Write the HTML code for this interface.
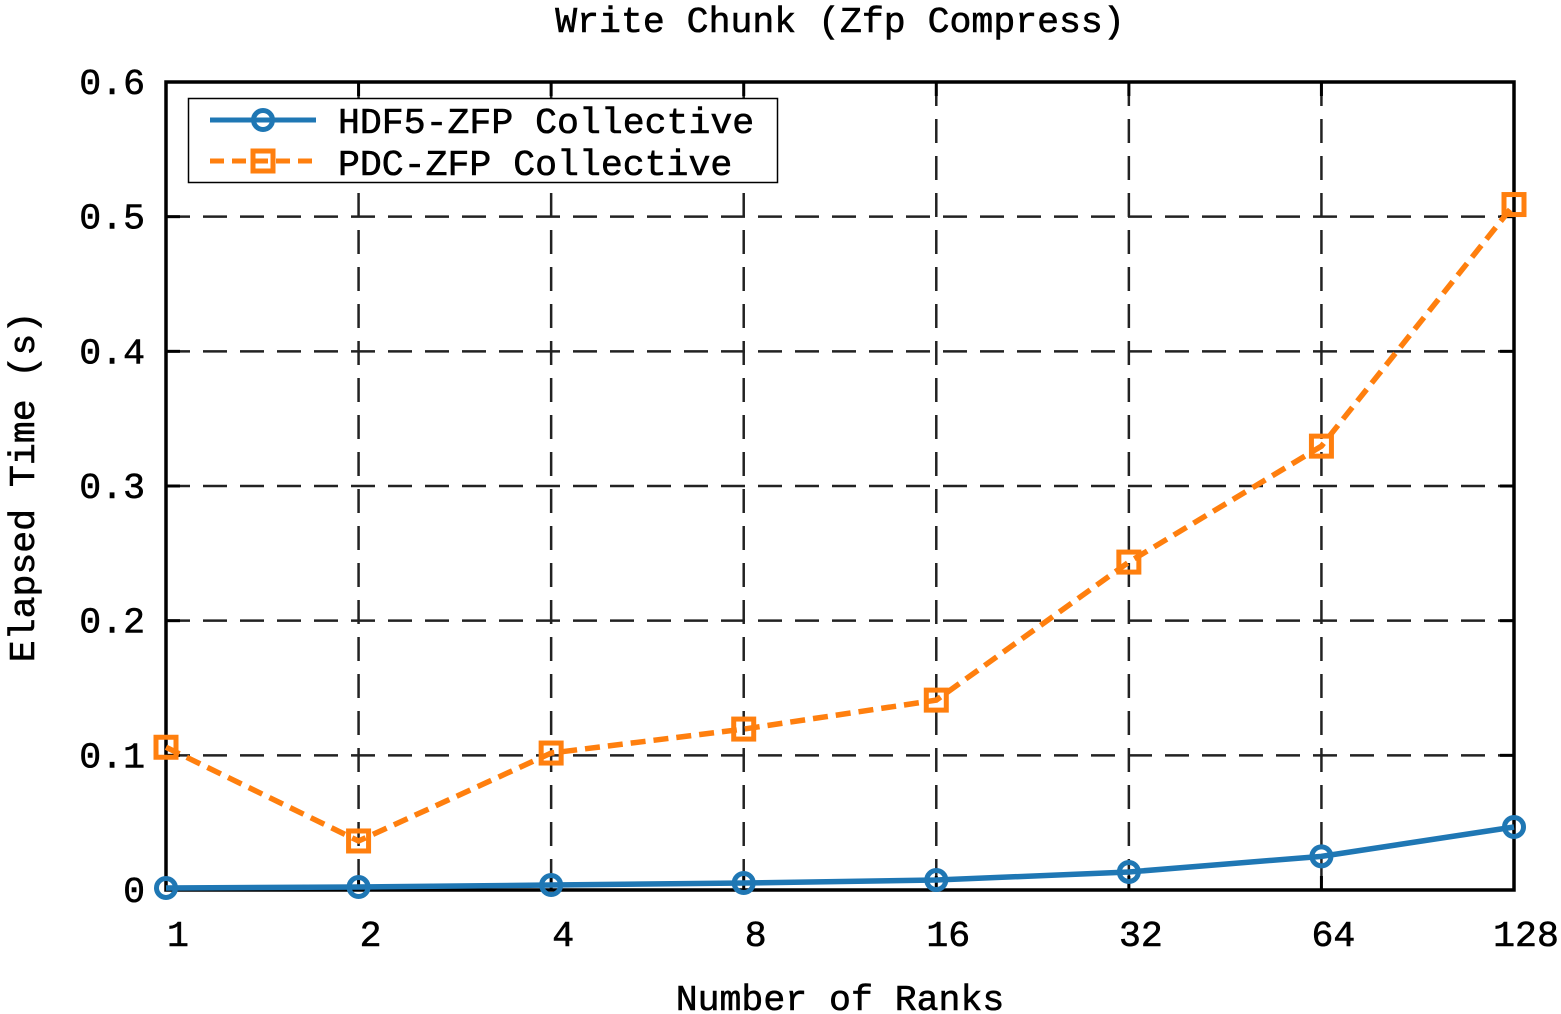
<!DOCTYPE html>
<html><head><meta charset="utf-8"><style>
html,body{margin:0;padding:0;background:#fff;}
svg{display:block;font-family:"Liberation Mono",monospace;}
text{stroke:#000;stroke-width:0.6;}
</style></head><body>
<svg id="chart" width="1561" height="1014" viewBox="0 0 1561 1014" xmlns="http://www.w3.org/2000/svg">
<text x="840" y="32" font-size="36.5" text-anchor="middle">Write Chunk (Zfp Compress)</text>
<text x="840" y="1010" font-size="36.5" text-anchor="middle">Number of Ranks</text>
<text transform="translate(34,487) rotate(-90)" font-size="36.5" text-anchor="middle">Elapsed Time (s)</text>
<g id="grid"></g>
<g id="axes"></g>
<g id="series"></g>
<g>
<rect x="188.5" y="98.5" width="589" height="84" fill="#fff" stroke="#000" stroke-width="1.5"/>
<g>
<line x1="210" y1="120" x2="316" y2="120" stroke="#1f77b4" stroke-width="5"/>
<circle cx="263" cy="120" r="9.5" fill="none" stroke="#1f77b4" stroke-width="5"/>
<text x="338" y="133" font-size="36.5">HDF5-ZFP Collective</text>
</g>
<g>
<line x1="210" y1="161" x2="316" y2="161" stroke="#ff7f0e" stroke-width="5" stroke-dasharray="14,8"/>
<rect x="253" y="151" width="20" height="20" fill="none" stroke="#ff7f0e" stroke-width="5"/>
<text x="338" y="175" font-size="36.5">PDC-ZFP Collective</text>
</g>
</g>
</svg>
<script>
const categories = ["1","2","4","8","16","32","64","128"];
const hdf5Values = [0.0015,0.0022,0.0037,0.0052,0.0074,0.0134,0.025,0.0468];
const pdcValues = [0.106,0.0364,0.1017,0.1195,0.141,0.2435,0.3296,0.509];
const yTicks = [0,0.1,0.2,0.3,0.4,0.5,0.6];
const yTickLabels = ["0","0.1","0.2","0.3","0.4","0.5","0.6"];

const L=166,R=1514,T=82,B=890,NS="http://www.w3.org/2000/svg";
const xs=i=>L+i*(R-L)/(categories.length-1);
const ys=v=>B-(v/0.6)*(B-T);
function mk(tag,attrs,parent){const e=document.createElementNS(NS,tag);for(const k in attrs)e.setAttribute(k,attrs[k]);parent.appendChild(e);return e;}
const grid=document.getElementById('grid'),axes=document.getElementById('axes'),series=document.getElementById('series');
yTicks.forEach((v,i)=>{
  const y=ys(v);
  if(i>0&&i<yTicks.length-1){const g=mk('line',{x1:L,x2:R,y1:y,y2:y,stroke:'#222','stroke-width':2.5,'stroke-dasharray':'24,13'},grid);
  
  }
  mk('line',{x1:L,x2:L+14,y1:y,y2:y,stroke:'#000','stroke-width':3},axes);
  mk('line',{x1:R-14,x2:R,y1:y,y2:y,stroke:'#000','stroke-width':3},axes);
  const t=mk('text',{x:145,y:y+12,'font-size':36.5,'text-anchor':'end'},axes);
  t.textContent=yTickLabels[i];
  
  
});
categories.forEach((c,i)=>{
  const x=xs(i);
  if(i>0&&i<categories.length-1){const g=mk('line',{x1:x,x2:x,y1:T,y2:B,stroke:'#222','stroke-width':2.5,'stroke-dasharray':'24,13'},grid);
  
  }
  mk('line',{x1:x,x2:x,y1:B,y2:B-14,stroke:'#000','stroke-width':3},axes);
  mk('line',{x1:x,x2:x,y1:T,y2:T+14,stroke:'#000','stroke-width':3},axes);
  const t=mk('text',{x:x+12,y:946,'font-size':36.5,'text-anchor':'middle'},axes);
  t.textContent=c;
  
  
});
const frame=mk('rect',{x:L,y:T,width:R-L,height:B-T,fill:'none',stroke:'#000','stroke-width':3.5},axes);


function pts(vals){return vals.map((v,i)=>xs(i)+','+ys(v)).join(' ');}
const pl=mk('polyline',{points:pts(pdcValues),fill:'none',stroke:'#ff7f0e','stroke-width':5.5,'stroke-dasharray':'15,8'},series);


pdcValues.forEach((v,i)=>{const m=mk('rect',{x:xs(i)-10,y:ys(v)-10,width:20,height:20,fill:'none',stroke:'#ff7f0e','stroke-width':5},series);

});
const hl=mk('polyline',{points:pts(hdf5Values),fill:'none',stroke:'#1f77b4','stroke-width':5.5},series);


hdf5Values.forEach((v,i)=>{const m=mk('circle',{cx:xs(i),cy:ys(v),r:9.5,fill:'none',stroke:'#1f77b4','stroke-width':5},series);

});
</script>
</body></html>
